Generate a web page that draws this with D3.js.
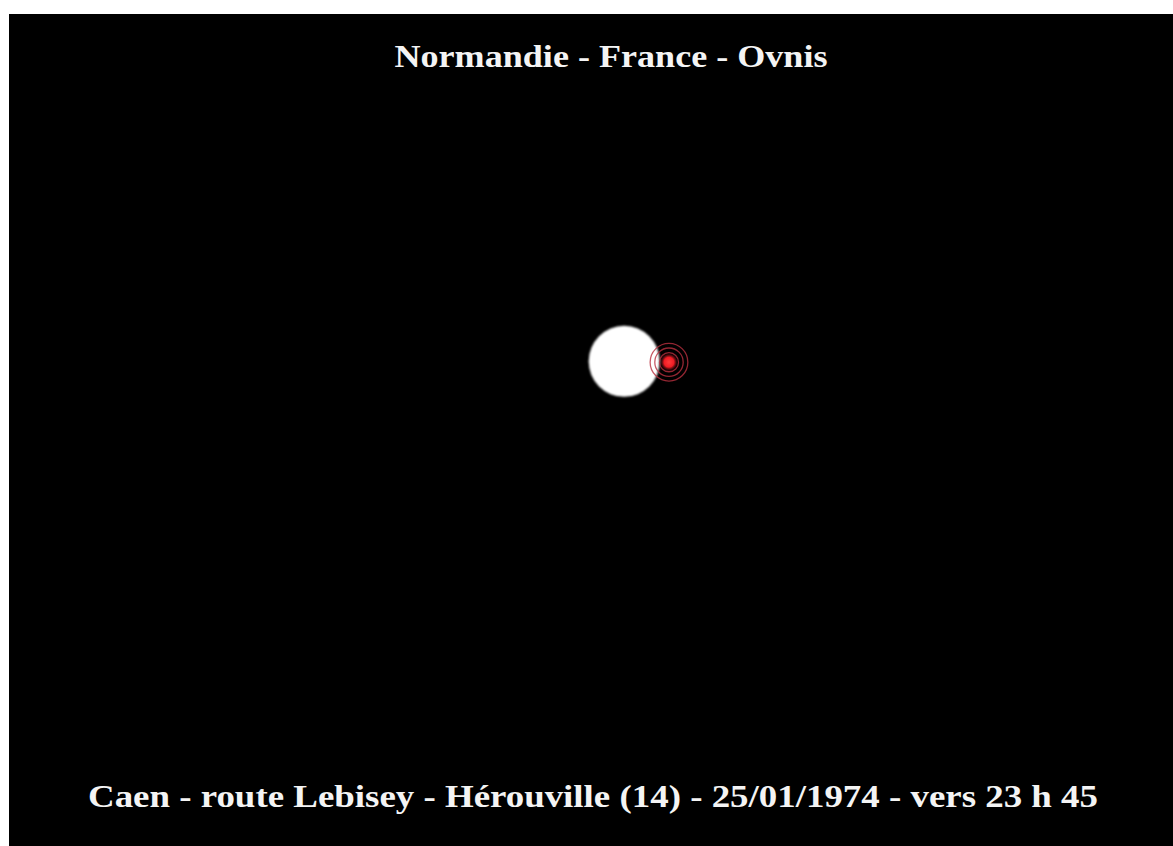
<!DOCTYPE html>
<html>
<head>
<meta charset="utf-8">
<script src="https://cdn.jsdelivr.net/npm/d3@7"></script>
<style>
  body { margin: 0; background: #fff; overflow: hidden; }
</style>
</head>
<body>
<div id="chart"></div>
<script>
const width = 1173
const height = 846
const margin = { top: 14, right: 0, bottom: 0, left: 9 }

// textes
const titleText = 'Normandie - France - Ovnis'
const captionText = 'Caen - route Lebisey - Hérouville (14) - 25/01/1974 - vers 23 h 45'

// positions in the sky, as fractions of the frame
const moon = [{ name: 'lune', x: 0.5285, y: 0.4175, r: 0.0305 }]
const ovni = [{ name: 'ovni', x: 0.567, y: 0.4185, r: 0.0048 }]
const ringRadii = [0.0082, 0.0122, 0.0162]

const innerW = width - margin.left - margin.right
const innerH = height - margin.top - margin.bottom

const x = d3.scaleLinear().domain([0, 1]).range([0, innerW])
const y = d3.scaleLinear().domain([0, 1]).range([0, innerH])

const svg = d3.select('#chart').append('svg')
  .attr('width', width)
  .attr('height', height)

const defs = svg.append('defs')
defs.append('filter').attr('id', 'soft')
  .append('feGaussianBlur').attr('stdDeviation', 0.8)
const glow = defs.append('radialGradient').attr('id', 'glow')
glow.append('stop').attr('offset', '0%').attr('stop-color', '#ff3a3a')
glow.append('stop').attr('offset', '55%').attr('stop-color', '#f01c24')
glow.append('stop').attr('offset', '100%').attr('stop-color', '#7a0d14').attr('stop-opacity', 0)

const g = svg.append('g').attr('transform', `translate(${margin.left},${margin.top})`)

g.append('rect')
  .attr('width', innerW)
  .attr('height', innerH)
  .attr('fill', '#000')

g.selectAll('.moon')
  .data(moon)
  .join('circle')
  .attr('class', 'moon')
  .attr('cx', (d) => x(d.x))
  .attr('cy', (d) => y(d.y))
  .attr('r', (d) => x(d.r))
  .attr('fill', '#fff')
  .attr('filter', 'url(#soft)')

const o = ovni[0]
g.selectAll('.ring')
  .data(ringRadii)
  .join('circle')
  .attr('class', 'ring')
  .attr('cx', x(o.x))
  .attr('cy', y(o.y))
  .attr('r', (d) => x(d))
  .attr('fill', 'none')
  .attr('stroke', '#b8303e')
  .attr('stroke-opacity', 0.8)
  .attr('stroke-width', 1.3)

g.selectAll('.ovni')
  .data(ovni)
  .join('circle')
  .attr('class', 'ovni')
  .attr('cx', (d) => x(d.x))
  .attr('cy', (d) => y(d.y))
  .attr('r', (d) => x(d.r) * 1.6)
  .attr('fill', 'url(#glow)')

const serif = '"Liberation Serif", "Times New Roman", serif'

g.append('text')
  .attr('x', 611 - margin.left)
  .attr('y', 67 - margin.top)
  .attr('text-anchor', 'middle')
  .attr('textLength', 433)
  .attr('lengthAdjust', 'spacingAndGlyphs')
  .attr('font-family', serif)
  .attr('font-weight', 'bold')
  .attr('font-size', 31)
  .attr('fill', '#f4f4f4')
  .text(titleText)

g.append('text')
  .attr('x', 593 - margin.left)
  .attr('y', 807 - margin.top)
  .attr('text-anchor', 'middle')
  .attr('textLength', 1010)
  .attr('lengthAdjust', 'spacingAndGlyphs')
  .attr('font-family', serif)
  .attr('font-weight', 'bold')
  .attr('font-size', 32)
  .attr('fill', '#f4f4f4')
  .text(captionText)
</script>
</body>
</html>
